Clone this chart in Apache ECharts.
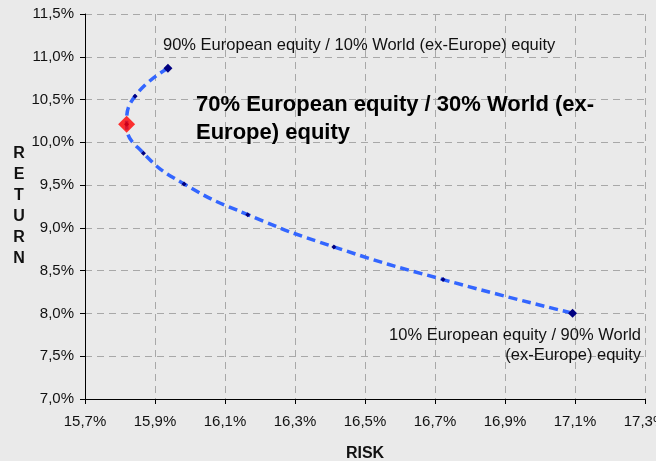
<!DOCTYPE html>
<html>
<head>
<meta charset="utf-8">
<script src="https://cdn.jsdelivr.net/npm/echarts@6/dist/echarts.min.js"></script>
<style>html,body{margin:0;padding:0;background:#eaeaea;}#c{width:656px;height:461px;}</style>
</head>
<body>
<div id="c"></div>
<script>
// Portfolio mixes from 90/10 down to 10/90 (European / World ex-Europe)
const mixes = ['90/10','80/20','70/30','60/40','50/50','40/60','30/70','20/80','10/90'];
const risk = [15.937, 15.843, 15.819, 15.867, 15.983, 16.165, 16.411, 16.723, 17.093];
const ret  = [10.866, 10.540, 10.211, 9.873, 9.514, 9.155, 8.778, 8.396, 8.003];
const highlightIndex = 2; // 70/30
const xTicks = {min: 15.7, max: 17.3, step: 0.2};
const yTicks = {min: 7.0, max: 11.5, step: 0.5};

const fmt = v => v.toFixed(1).replace('.', ',') + '%';
const lastIdx = risk.length - 1;
const lineData = risk.map((r, i) => ({
  value: [r, ret[i]],
  symbolSize: (i === 0 || i === lastIdx) ? 9 : 5
}));

const chart = echarts.init(document.getElementById('c'));
const font = 'Liberation Sans, Arial, sans-serif';
chart.setOption({
  backgroundColor: '#eaeaea',
  animation: false,
  grid: {left: 85, right: 11, top: 14, bottom: 62, containLabel: false, outerBoundsMode: 'none'},
  xAxis: {
    type: 'value', min: xTicks.min, max: xTicks.max, interval: xTicks.step,
    name: 'RISK', nameLocation: 'middle', nameGap: 47,
    nameTextStyle: {fontFamily: font, fontWeight: 'bold', fontSize: 16, color: '#111'},
    axisLine: {show: true, lineStyle: {color: '#000', width: 1}},
    axisTick: {show: true, length: 5, lineStyle: {color: '#000'}},
    axisLabel: {formatter: fmt, fontFamily: font, fontSize: 15, color: '#111', margin: 15, showMaxLabel: true},
    splitLine: {show: true, lineStyle: {color: '#a8a8a8', type: [7, 5], width: 1}}
  },
  yAxis: {
    type: 'value', min: yTicks.min, max: yTicks.max, interval: yTicks.step,
    name: 'RETURN'.split('').join('\n'), nameLocation: 'middle', nameGap: 66, nameRotate: 0,
    nameTextStyle: {fontFamily: font, fontWeight: 'bold', fontSize: 16, color: '#111', lineHeight: 21, align: 'center'},
    axisLine: {show: true, lineStyle: {color: '#000', width: 1}},
    axisTick: {show: true, length: 5, lineStyle: {color: '#000'}},
    axisLabel: {formatter: fmt, fontFamily: font, fontSize: 15, color: '#111', margin: 11},
    splitLine: {show: true, lineStyle: {color: '#a8a8a8', type: [7, 5], width: 1}}
  },
  series: [
    {
      type: 'line', data: lineData, smooth: 0.5,
      symbol: 'diamond', showAllSymbol: true,
      itemStyle: {color: '#000080'},
      lineStyle: {color: '#3366ff', width: 3.5, type: [9, 5]},
      z: 3
    },
    {
      type: 'scatter', symbol: 'diamond', symbolSize: 17,
      data: [[risk[highlightIndex], ret[highlightIndex]]],
      itemStyle: {color: '#ff0000'}, z: 4
    }
  ],
  graphic: [
    {type: 'text', x: 163, y: 37, z: 10,
     style: {text: '90% European equity / 10% World (ex-Europe) equity', font: '16.5px ' + font, fill: '#111'}},
    {type: 'text', x: 196, y: 91, z: 10,
     style: {text: '70% European equity / 30% World (ex-\nEurope) equity', font: 'bold 22px ' + font, fill: '#000', lineHeight: 28}},
    {type: 'text', x: 641, y: 326, z: 10,
     style: {text: '10% European equity / 90% World\n(ex-Europe) equity', font: '16.5px ' + font, fill: '#111', align: 'right', lineHeight: 19.5}}
  ]
});
</script>
</body>
</html>
